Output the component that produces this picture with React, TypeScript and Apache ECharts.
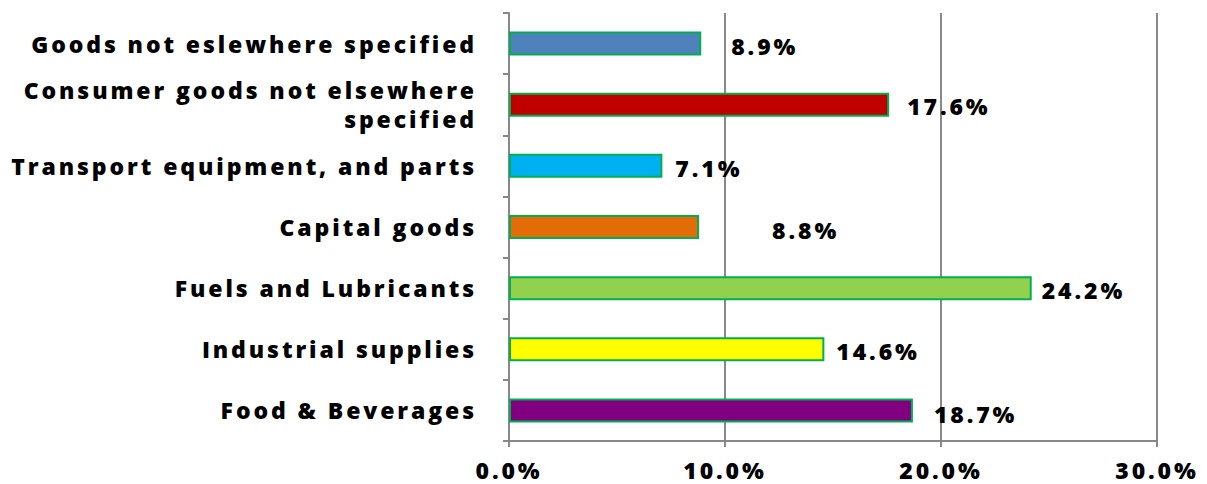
import React, { useEffect, useRef } from "react";
import * as echarts from "echarts";

const categories = [
  "Food & Beverages",
  "Industrial supplies",
  "Fuels and Lubricants",
  "Capital goods",
  "Transport equipment, and parts",
  "Consumer goods not elsewhere\nspecified",
  "Goods not eslewhere specified",
];
const values = [18.7, 14.6, 24.2, 8.8, 7.1, 17.6, 8.9];
const barColors = ["#800080", "#FFFF00", "#92D050", "#E36C09", "#00B0F0", "#C00000", "#4F81BD"];
const labelOffsets: [number, number][] = [
  [16, 4],
  [7, 2],
  [5, 2],
  [68, 3],
  [8, 2],
  [13, 1],
  [25, 2],
];
const xTicks = [0, 10, 20, 30];

export default function App() {
  const ref = useRef<HTMLDivElement>(null);
  useEffect(() => {
    if (!ref.current) return;
    const chart = echarts.init(ref.current, null, { renderer: "svg" });
    const font = "Open Sans";
    const weight = 800;
    chart.setOption({
      animation: false,
      backgroundColor: "#ffffff",
      grid: { left: 509, right: 50, top: 13, bottom: 43, containLabel: false },
      xAxis: {
        type: "value",
        min: xTicks[0],
        max: xTicks[xTicks.length - 1],
        interval: 10,
        axisLine: { show: true, lineStyle: { color: "#888888", width: 2 } },
        axisTick: { show: true, length: 6, lineStyle: { color: "#888888", width: 2 } },
        splitLine: { show: true, lineStyle: { color: "#888888", width: 2 } },
        axisLabel: {
          formatter: (v: number) => v.toFixed(1) + "%",
          color: "#000",
          fontFamily: font,
          fontWeight: weight,
          fontSize: 23,
          margin: 17,
        },
      },
      yAxis: {
        type: "category",
        data: categories,
        axisLine: { show: true, lineStyle: { color: "#888888", width: 2 } },
        axisTick: { show: true, length: 6, lineStyle: { color: "#888888", width: 2 } },
        axisLabel: {
          color: "#000",
          fontFamily: font,
          fontWeight: weight,
          fontSize: 23,
          margin: 32,
          align: "right",
          lineHeight: 29,
        },
      },
      series: [
        {
          type: "bar",
          barWidth: 24,
          data: values.map((v, i) => ({
            value: v,
            itemStyle: { color: barColors[i], borderColor: "#00B050", borderWidth: 2 },
            label: { offset: labelOffsets[i] },
          })),
          label: {
            show: true,
            position: "right",
            distance: 5,
            formatter: (p: any) => Number(p.value).toFixed(1) + "%",
            color: "#000",
            fontFamily: font,
            fontWeight: weight,
            fontSize: 23,
          },
        },
      ],
    });
    return () => chart.dispose();
  }, []);
  return (
    <div
      ref={ref}
      style={{ position: "fixed", left: 0, top: 0, width: 1207, height: 484, letterSpacing: "2.9px" }}
    />
  );
}
